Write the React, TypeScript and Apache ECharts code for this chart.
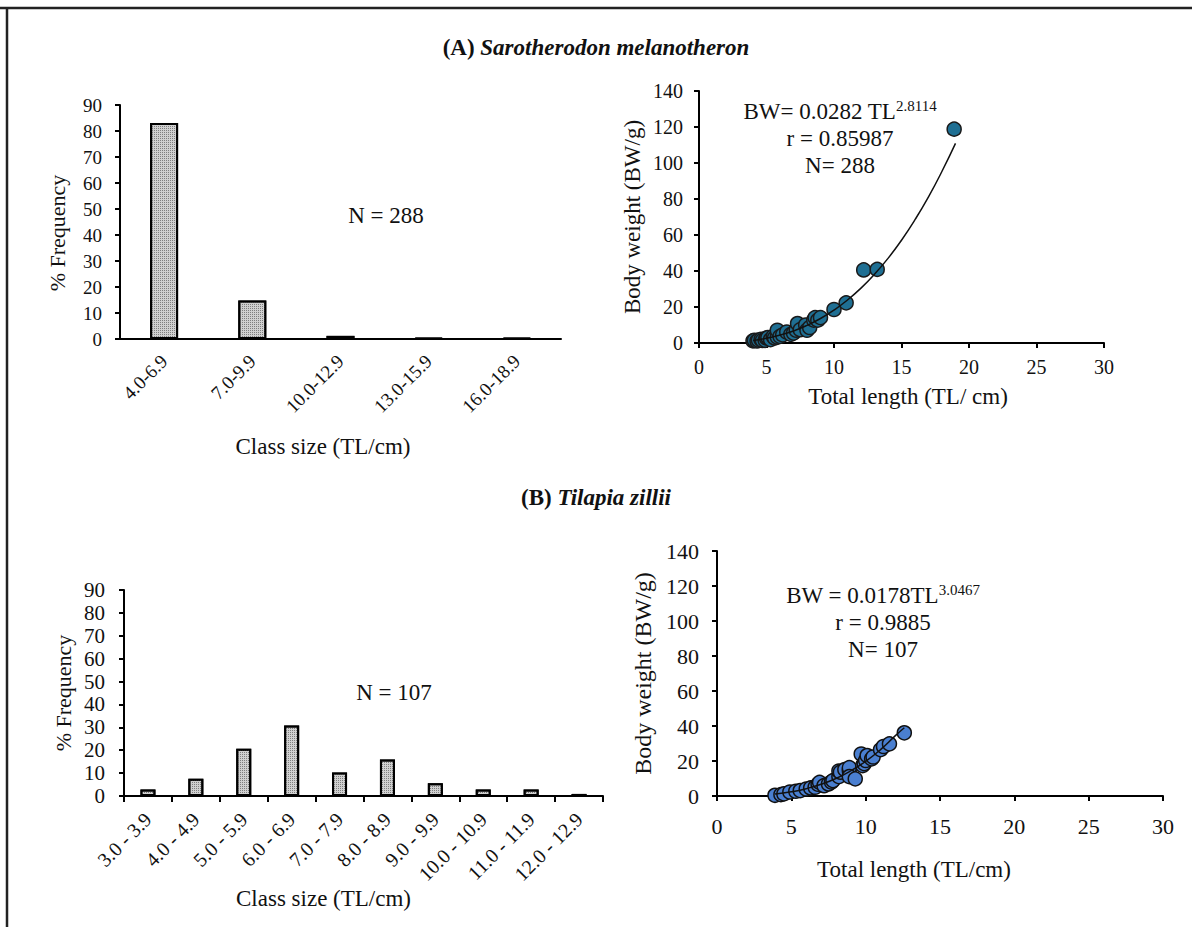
import React, { useEffect, useRef } from "react";
import * as echarts from "echarts";

const F = "Liberation Serif";

// (A) Sarotherodon melanotheron
const classesA = ["4.0-6.9", "7.0-9.9", "10.0-12.9", "13.0-15.9", "16.0-18.9"];
const freqA = [83.1, 14.8, 1.2, 0.4, 0.4];
const pointsA: [number, number][] = [
  [4.0, 1.2], [4.1, 1.5], [4.3, 1.1], [4.4, 1.6], [4.6, 2.0], [4.7, 1.4], [4.9, 1.5],
  [5.0, 2.8], [5.1, 3.0], [5.3, 1.9], [5.5, 3.7], [5.6, 2.8], [5.8, 3.3], [5.8, 7.1],
  [6.0, 3.7], [6.2, 4.5], [6.5, 6.1], [6.8, 4.8], [7.0, 5.5], [7.2, 7.1], [7.3, 10.8],
  [7.5, 7.4], [7.9, 10.0], [8.0, 7.1], [8.2, 8.6], [8.5, 12.7], [8.6, 14.1], [8.8, 12.7],
  [9.0, 14.1], [10.0, 18.6], [10.9, 22.3], [12.2, 40.6], [13.2, 40.9], [18.9, 118.8],
];
const curveA: [number, number][] = [
  [4, 1.4], [5, 2.6], [6, 4.4], [7, 6.7], [8, 9.8], [9, 13.6], [10, 18.3], [11, 23.9],
  [12, 30.5], [13, 38.2], [14, 47.0], [15, 57.1], [16, 68.5], [17, 81.2], [18, 95.4], [19, 110.9],
];

// (B) Tilapia zillii
const classesB = [
  "3.0 - 3.9", "4.0 - 4.9", "5.0 - 5.9", "6.0 - 6.9", "7.0 - 7.9",
  "8.0 - 8.9", "9.0 - 9.9", "10.0 - 10.9", "11.0 - 11.9", "12.0 - 12.9",
];
const freqB = [2.8, 7.5, 20.6, 30.8, 10.3, 15.9, 5.6, 2.8, 2.8, 0.9];
const pointsB: [number, number][] = [
  [3.9, 0.4], [4.3, 0.8], [4.5, 1.2], [4.9, 2.3], [5.3, 2.7], [5.6, 3.1], [6.0, 4.0],
  [6.3, 4.6], [6.6, 5.0], [6.8, 6.7], [6.9, 7.8], [7.2, 5.9], [7.5, 6.9], [7.7, 8.0],
  [7.8, 8.8], [8.2, 11.1], [8.2, 14.3], [8.3, 13.6], [8.6, 15.1], [8.9, 14.5], [8.9, 16.2],
  [8.9, 11.1], [9.3, 9.8], [9.7, 24.0], [9.8, 17.4], [9.9, 18.5], [10.0, 20.3], [10.1, 23.1],
  [10.4, 21.2], [10.5, 22.3], [11.0, 26.5], [11.2, 28.3], [11.6, 29.8], [12.6, 36.1],
];
const curveB: [number, number][] = [
  [3.9, 1.1], [5, 2.4], [6, 4.2], [7, 6.7], [8, 10.0], [9, 14.4], [10, 19.8],
  [11, 26.5], [12, 34.5], [12.6, 39.0],
];

const black = "#000";
const ink = "#111";

function valueAxisBase(fs: number, margin: number) {
  return {
    axisLine: { show: true, lineStyle: { color: black, width: 2 } },
    axisTick: { show: true, inside: false, length: 5, lineStyle: { color: black, width: 2 } },
    axisLabel: { fontFamily: F, fontSize: fs, color: ink, margin },
    splitLine: { show: false },
  };
}

export default function App() {
  const ref = useRef<HTMLDivElement>(null);
  useEffect(() => {
    if (!ref.current) return;
    const chart = echarts.init(ref.current, undefined, { renderer: "svg" });
    const barDecal = {
      symbol: "rect",
      symbolSize: 1,
      dashArrayX: [1, 1],
      dashArrayY: [1, 1],
      color: "#7f7f7f",
    };
    const eqRich = {
      m: { fontFamily: F, fontSize: 23, lineHeight: 27, fill: ink, verticalAlign: "middle" },
      s: { fontFamily: F, fontSize: 15, lineHeight: 15, fill: ink, verticalAlign: "top" },
    };
    const titleRich = {
      a: { fontFamily: F, fontSize: 23, fontWeight: "bold", fill: ink },
      b: { fontFamily: F, fontSize: 23, fontWeight: "bold", fontStyle: "italic", fill: ink },
    };
    const option: any = {
      animation: false,
      backgroundColor: "#fff",
      textStyle: { fontFamily: F },
      grid: [
        { left: 120, top: 105, width: 441, height: 234, outerBoundsMode: "none" },
        { left: 699, top: 91, width: 405, height: 252, outerBoundsMode: "none" },
        { left: 124, top: 590, width: 479, height: 206, outerBoundsMode: "none" },
        { left: 717, top: 551, width: 446, height: 245, outerBoundsMode: "none" },
      ],
      xAxis: [
        {
          gridIndex: 0,
          type: "category",
          data: classesA,
          axisLine: { show: true, lineStyle: { color: black, width: 2 } },
          axisTick: { show: false },
          axisLabel: { fontFamily: F, fontSize: 19, color: ink, rotate: 45, margin: 19, interval: 0 },
          name: "Class size (TL/cm)",
          nameLocation: "middle",
          nameGap: 96,
          nameTextStyle: { fontFamily: F, fontSize: 23, color: ink, padding: [0, 35, 0, 0] },
        },
        {
          gridIndex: 1,
          type: "value",
          min: 0,
          max: 30,
          interval: 5,
          ...valueAxisBase(20, 14),
          name: "Total length (TL/ cm)",
          nameLocation: "middle",
          nameGap: 42,
          nameTextStyle: { fontFamily: F, fontSize: 23, color: ink, padding: [0, 0, 0, 13] },
        },
        {
          gridIndex: 2,
          type: "category",
          data: classesB,
          axisLine: { show: true, lineStyle: { color: black, width: 2 } },
          axisTick: { show: true, inside: false, length: 6, alignWithLabel: false, lineStyle: { color: black, width: 2 } },
          axisLabel: { fontFamily: F, fontSize: 20, color: ink, rotate: 45, margin: 20, interval: 0 },
          name: "Class size (TL/cm)",
          nameLocation: "middle",
          nameGap: 85,
          nameTextStyle: { fontFamily: F, fontSize: 23, color: ink, padding: [0, 80, 0, 0] },
        },
        {
          gridIndex: 3,
          type: "value",
          min: 0,
          max: 30,
          interval: 5,
          ...valueAxisBase(22, 19),
          name: "Total length (TL/cm)",
          nameLocation: "middle",
          nameGap: 62,
          nameTextStyle: { fontFamily: F, fontSize: 23, color: ink, padding: [0, 52, 0, 0] },
        },
      ],
      yAxis: [
        {
          gridIndex: 0,
          type: "value",
          min: 0,
          max: 90,
          interval: 10,
          ...valueAxisBase(19, 18),
          name: "% Frequency",
          nameLocation: "middle",
          nameGap: 52,
          nameTextStyle: { fontFamily: F, fontSize: 22, color: ink, padding: [0, 22, 0, 0] },
        },
        {
          gridIndex: 1,
          type: "value",
          min: 0,
          max: 140,
          interval: 20,
          ...valueAxisBase(20, 16),
          name: "Body weight (BW/g)",
          nameLocation: "middle",
          nameGap: 55,
          nameTextStyle: { fontFamily: F, fontSize: 23, color: ink },
        },
        {
          gridIndex: 2,
          type: "value",
          min: 0,
          max: 90,
          interval: 10,
          ...valueAxisBase(21, 19),
          name: "% Frequency",
          nameLocation: "middle",
          nameGap: 50,
          nameTextStyle: { fontFamily: F, fontSize: 22, color: ink },
        },
        {
          gridIndex: 3,
          type: "value",
          min: 0,
          max: 140,
          interval: 20,
          ...valueAxisBase(22, 18),
          name: "Body weight (BW/g)",
          nameLocation: "middle",
          nameGap: 62,
          nameTextStyle: { fontFamily: F, fontSize: 24, color: ink },
        },
      ],
      series: [
        {
          type: "bar",
          xAxisIndex: 0,
          yAxisIndex: 0,
          data: freqA,
          barWidth: 28,
          itemStyle: { color: "#d0d0d0", borderColor: black, borderWidth: 2, decal: barDecal },
        },
        {
          type: "scatter",
          xAxisIndex: 1,
          yAxisIndex: 1,
          data: pointsA,
          symbolSize: 14,
          itemStyle: { color: "#1f6f93", borderColor: "#1a1a1a", borderWidth: 1.5, opacity: 1 },
        },
        {
          type: "line",
          xAxisIndex: 1,
          yAxisIndex: 1,
          data: curveA,
          smooth: true,
          showSymbol: false,
          symbol: "none",
          lineStyle: { color: ink, width: 1.5 },
        },
        {
          type: "bar",
          xAxisIndex: 2,
          yAxisIndex: 2,
          data: freqB,
          barWidth: 15,
          itemStyle: { color: "#d0d0d0", borderColor: black, borderWidth: 2, decal: barDecal },
        },
        {
          type: "scatter",
          xAxisIndex: 3,
          yAxisIndex: 3,
          data: pointsB,
          symbolSize: 14,
          itemStyle: { color: "#4a7fd0", borderColor: ink, borderWidth: 1.5, opacity: 1 },
        },
        {
          type: "line",
          xAxisIndex: 3,
          yAxisIndex: 3,
          data: curveB,
          smooth: true,
          showSymbol: false,
          symbol: "none",
          lineStyle: { color: ink, width: 1.5 },
        },
      ],
      graphic: [
        { type: "line", shape: { x1: 0, y1: 8, x2: 1192, y2: 8 }, style: { stroke: "#222", lineWidth: 2.5 } },
        { type: "line", shape: { x1: 7, y1: 7, x2: 7, y2: 927 }, style: { stroke: "#222", lineWidth: 2.5 } },
        {
          type: "text",
          x: 596,
          y: 47,
          style: { text: "{a|(A) }{b|Sarotherodon melanotheron}", align: "center", verticalAlign: "middle", rich: titleRich },
        },
        {
          type: "text",
          x: 596,
          y: 497,
          style: { text: "{a|(B) }{b|Tilapia zillii}", align: "center", verticalAlign: "middle", rich: titleRich },
        },
        {
          type: "text",
          x: 386,
          y: 215,
          style: { text: "N = 288", fontFamily: F, fontSize: 23, fill: ink, align: "center", verticalAlign: "middle" },
        },
        {
          type: "text",
          x: 394,
          y: 692,
          style: { text: "N = 107", fontFamily: F, fontSize: 23, fill: ink, align: "center", verticalAlign: "middle" },
        },
        {
          type: "text",
          x: 840,
          y: 98,
          style: {
            text: "{m|BW= 0.0282 TL}{s|2.8114}\n{m|r = 0.85987}\n{m|N= 288}",
            align: "center",
            verticalAlign: "top",
            rich: eqRich,
          },
        },
        {
          type: "text",
          x: 883,
          y: 582,
          style: {
            text: "{m|BW = 0.0178TL}{s|3.0467}\n{m|r = 0.9885}\n{m|N= 107}",
            align: "center",
            verticalAlign: "top",
            rich: eqRich,
          },
        },
      ],
    };
    chart.setOption(option);
    return () => chart.dispose();
  }, []);
  return (
    <div
      ref={ref}
      style={{ position: "fixed", left: 0, top: 0, width: 1192, height: 927, background: "#fff" }}
    />
  );
}
